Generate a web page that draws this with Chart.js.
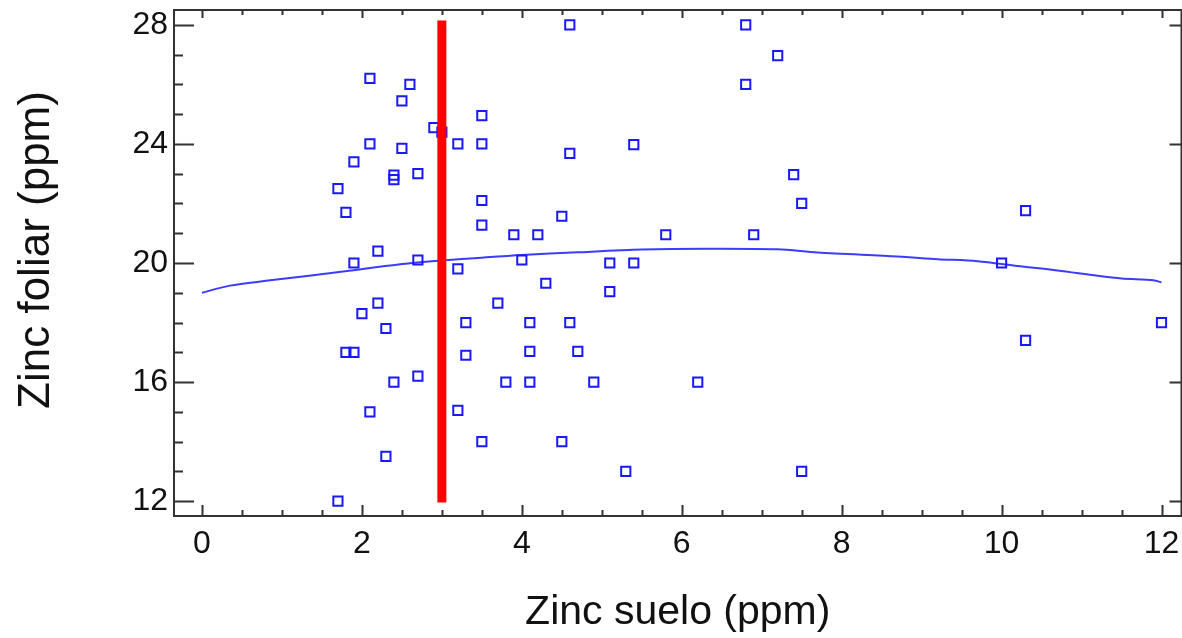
<!DOCTYPE html>
<html>
<head>
<meta charset="utf-8">
<script src="https://cdn.jsdelivr.net/npm/chart.js@4"></script>
<style>
  html, body { margin: 0; padding: 0; background: #ffffff; overflow: hidden; width: 1182px; height: 638px; }
  #c { display: block; }
</style>
</head>
<body>
<canvas id="c" width="1190" height="638" style="width:1190px;height:638px"></canvas>
<script>
// ---- data ----
const soilZinc = [
  1.7, 1.7, 1.8, 1.8, 1.9, 1.9, 1.9, 2.0, 2.1, 2.1, 2.1, 2.2, 2.2, 2.3, 2.3,
  2.4, 2.4, 2.4, 2.5, 2.5, 2.6, 2.7, 2.7, 2.7, 2.9, 3.0, 3.2, 3.2, 3.2, 3.3,
  3.3, 3.5, 3.5, 3.5, 3.5, 3.5, 3.7, 3.8, 3.9, 4.0, 4.1, 4.1, 4.1, 4.2, 4.3,
  4.5, 4.5, 4.6, 4.6, 4.6, 4.7, 4.9, 5.1, 5.1, 5.3, 5.4, 5.4, 5.8, 6.2, 6.8,
  6.8, 6.9, 7.2, 7.4, 7.5, 7.5, 10.0, 10.3, 10.3, 12.0
];
const leafZinc = [
  12.0, 22.5, 21.7, 17.0, 17.0, 20.0, 23.4, 18.3, 26.2, 24.0, 15.0, 20.4, 18.65, 17.8, 13.5,
  22.95, 22.8, 16.0, 25.45, 23.85, 26.0, 23.0, 20.1, 16.2, 24.55, 24.4, 24.0, 19.8, 15.05, 18.0,
  16.9, 24.95, 24.0, 22.1, 21.27, 14.0, 18.65, 16.0, 20.95, 20.1, 18.0, 17.03, 16.0, 20.95, 19.32,
  21.57, 14.0, 28.0, 23.68, 18.0, 17.03, 16.0, 20.0, 19.04, 13.0, 23.98, 20.0, 20.95, 16.0, 28.0,
  26.0, 20.95, 26.97, 22.97, 22.0, 13.0, 20.0, 21.76, 17.4, 18.0
];
// fitted curve
const fitX = [0, 0.35, 0.8, 1.34, 1.84, 2.46, 3.0, 3.5, 4.0, 4.7, 5.5, 6.3, 7.2, 7.7, 8.7, 9.2, 9.7, 10.2, 10.7, 11.2, 11.5, 11.9, 12.0];
const fitY = [19.0, 19.24, 19.4, 19.57, 19.74, 19.95, 20.08, 20.18, 20.27, 20.36, 20.45, 20.48, 20.46, 20.35, 20.22, 20.13, 20.06, 19.9, 19.75, 19.57, 19.48, 19.42, 19.35];
// red reference line
const refX = [3, 3];
const refY = [11.95, 28.15];
// axis ticks
const xTickLabels = [0, 2, 4, 6, 8, 10, 12];
const yTickLabels = [12, 16, 20, 24, 28];
const xMinorStep = 0.5;
const yMinorStep = 1;
const xTitle = 'Zinc suelo (ppm)';
const yTitle = 'Zinc foliar (ppm)';

const toPts = (xs, ys) => xs.map((x, i) => ({ x: x, y: ys[i] }));

const FONT = '"Liberation Sans", Arial, sans-serif';
const AXIS_COLOR = '#333333';

const framePlugin = {
  id: 'frameTicks',
  afterDraw(chart) {
    const ctx = chart.ctx;
    const a = chart.chartArea;
    const xs = chart.scales.x, ys = chart.scales.y;
    ctx.save();
    ctx.strokeStyle = AXIS_COLOR;
    ctx.lineWidth = 2;
    ctx.beginPath();
    ctx.rect(a.left, a.top, a.right - a.left, a.bottom - a.top);
    ctx.stroke();
    ctx.beginPath();
    for (let v = 0; v <= xTickLabels[xTickLabels.length - 1] + 1e-9; v += xMinorStep) {
      const px = Math.round(xs.getPixelForValue(v)) + 0.5;
      const major = xTickLabels.some(t => Math.abs(t - v) < 1e-9);
      ctx.moveTo(px, a.bottom);
      ctx.lineTo(px, a.bottom - (major ? 11 : 6));
      ctx.moveTo(px, a.top);
      ctx.lineTo(px, a.top + (major ? 8 : 5));
    }
    for (let v = yTickLabels[0]; v <= yTickLabels[yTickLabels.length - 1] + 1e-9; v += yMinorStep) {
      const py = Math.round(ys.getPixelForValue(v)) + 0.5;
      const major = yTickLabels.some(t => Math.abs(t - v) < 1e-9);
      ctx.moveTo(a.left, py);
      ctx.lineTo(a.left + (major ? 20 : 9), py);
      if (major) {
        ctx.moveTo(a.right, py);
        ctx.lineTo(a.right - 12, py);
      }
    }
    ctx.stroke();
    // vertical axis title
    ctx.fillStyle = '#111111';
    ctx.font = '44px ' + FONT;
    ctx.textAlign = 'center';
    ctx.textBaseline = 'middle';
    ctx.translate(37, 250);
    ctx.rotate(-Math.PI / 2);
    ctx.fillText(yTitle, 0, 0);
    ctx.restore();
  }
};

new Chart(document.getElementById('c'), {
  type: 'scatter',
  data: {
    datasets: [
      {
        label: 'Observaciones',
        data: toPts(soilZinc, leafZinc),
        pointStyle: 'rect',
        pointRadius: 6.5,
        pointBorderWidth: 2,
        borderColor: 'rgb(25,25,255)',
        backgroundColor: 'rgba(0,0,0,0)',
        showLine: false,
        order: 2
      },
      {
        label: 'Ajuste',
        type: 'line',
        data: toPts(fitX, fitY),
        borderColor: 'rgb(60,60,255)',
        borderWidth: 2,
        pointRadius: 0,
        fill: false,
        tension: 0.3,
        order: 3
      },
      {
        label: 'Referencia',
        type: 'line',
        data: toPts(refX, refY),
        borderColor: '#ff0000',
        borderWidth: 9,
        borderCapStyle: 'butt',
        pointRadius: 0,
        fill: false,
        order: 1
      }
    ]
  },
  options: {
    responsive: false,
    animation: false,
    devicePixelRatio: 1,
    layout: { padding: { top: 10, right: 6, left: 0, bottom: 0 } },
    plugins: { legend: { display: false }, tooltip: { enabled: false } },
    scales: {
      x: {
        type: 'linear',
        min: -0.35,
        max: 12.25,
        grid: { display: false, drawTicks: false },
        border: { display: false },
        afterBuildTicks(scale) { scale.ticks = xTickLabels.map(v => ({ value: v })); },
        afterFit(scale) { scale.height = 122; scale.paddingLeft = 0; scale.paddingRight = 0; },
        ticks: {
          autoSkip: false,
          maxRotation: 0,
          padding: 9,
          color: '#111111',
          font: { family: FONT, size: 32 }
        },
        title: {
          display: true,
          text: xTitle,
          color: '#111111',
          font: { family: FONT, size: 41 },
          padding: { top: 0, bottom: 1 }
        }
      },
      y: {
        type: 'linear',
        min: 11.5,
        max: 28.5,
        grid: { display: false, drawTicks: false },
        border: { display: false },
        afterBuildTicks(scale) { scale.ticks = yTickLabels.map(v => ({ value: v })); },
        afterFit(scale) { scale.width = 174; scale.paddingTop = 0; scale.paddingBottom = 0; },
        ticks: {
          autoSkip: false,
          padding: 6,
          color: '#111111',
          font: { family: FONT, size: 32 }
        },
        title: { display: false }
      }
    }
  },
  plugins: [framePlugin]
});
</script>
</body>
</html>
